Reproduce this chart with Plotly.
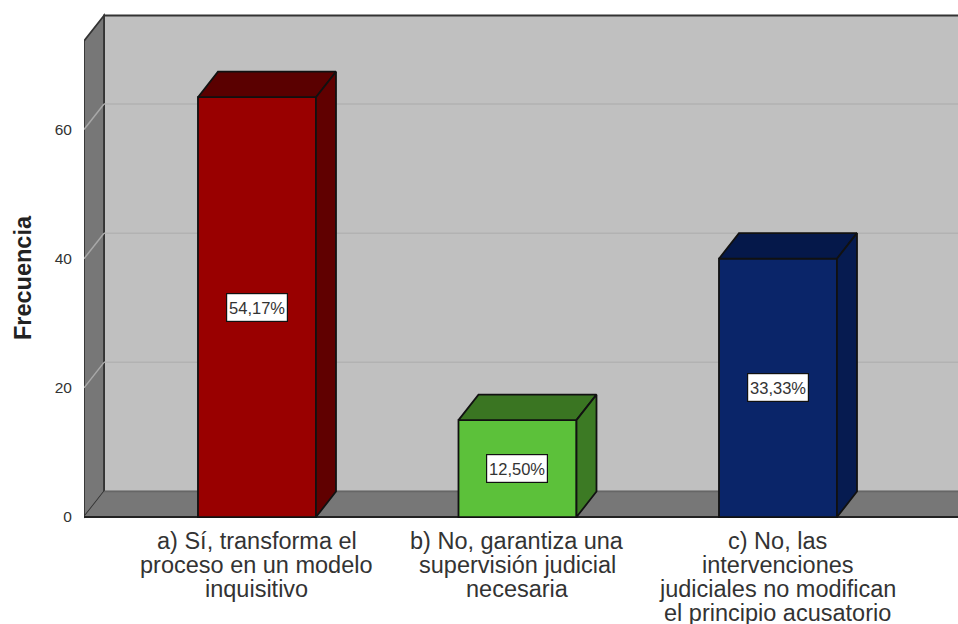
import plotly.graph_objects as go

category_lines = [
    ["a) Sí, transforma el", "proceso en un modelo", "inquisitivo"],
    ["b) No, garantiza una", "supervisión judicial", "necesaria"],
    ["c) No, las", "intervenciones", "judiciales no modifican", "el principio acusatorio"],
]
frequencies = [65, 15, 40]
percent_labels = ["54,17%", "12,50%", "33,33%"]
positions = [0, 1, 2]
y_ticks = [0, 20, 40, 60]
y_title = "Frecuencia"

front_colors = ["#990000", "#5CC13A", "#0A2569"]
top_colors = ["#5A0000", "#3A7522", "#05184A"]
side_colors = ["#600000", "#3C7A24", "#061B50"]

X_MIN, X_MAX = -0.664, 2.691
Y_MIN, Y_MAX = -0.3, 78.5
WALL_TOP = 73.7
DX, DY = 0.0768, 3.95
BAR_W = 0.453
LINE = "#111111"
EDGE = 1.8


def poly(points):
    return "M " + " L ".join(f"{x},{y}" for x, y in points) + " Z"


shapes = []
# back wall
shapes.append(dict(type="path", layer="below", xref="x", yref="y",
                   path=poly([(X_MIN + DX, DY), (X_MAX + 0.01, DY), (X_MAX + 0.01, WALL_TOP + DY), (X_MIN + DX, WALL_TOP + DY)]),
                   fillcolor="#C0C0C0", line=dict(color="#333333", width=1.8)))
# left wall
shapes.append(dict(type="path", layer="below", xref="x", yref="y",
                   path=poly([(X_MIN, 0), (X_MIN + DX, DY), (X_MIN + DX, WALL_TOP + DY), (X_MIN, WALL_TOP)]),
                   fillcolor="#777777", line=dict(color="#333333", width=1.8)))
# floor
shapes.append(dict(type="path", layer="below", xref="x", yref="y",
                   path=poly([(X_MIN, 0), (X_MAX + 0.01, 0), (X_MAX + 0.01, DY), (X_MIN + DX, DY)]),
                   fillcolor="#777777", line=dict(color="#777777", width=0)))
# front floor edge
shapes.append(dict(type="line", layer="below", xref="x", yref="y", x0=X_MIN, x1=X_MAX + 0.01, y0=0, y1=0,
                   line=dict(color="#222222", width=2)))
shapes.append(dict(type="line", layer="below", xref="x", yref="y", x0=X_MIN + DX, x1=X_MAX + 0.01, y0=DY, y1=DY,
                   line=dict(color="#666666", width=1.5)))
# gridlines on the walls
for t in y_ticks[1:]:
    shapes.append(dict(type="line", layer="below", xref="x", yref="y", x0=X_MIN + DX, x1=X_MAX + 0.01, y0=t + DY, y1=t + DY,
                       line=dict(color="#B2B2B2", width=1.5)))
    shapes.append(dict(type="line", layer="below", xref="x", yref="y", x0=X_MIN, x1=X_MIN + DX, y0=t, y1=t + DY,
                       line=dict(color="#A8A8A8", width=1.5)))

fig = go.Figure()
fig.add_trace(go.Bar(
    x=positions, y=frequencies, width=BAR_W,
    marker=dict(color=front_colors, line=dict(color=LINE, width=EDGE)),
    hoverinfo="skip", showlegend=False,
))

for p, v, top, side in zip(positions, frequencies, top_colors, side_colors):
    l, r = p - BAR_W / 2, p + BAR_W / 2
    fig.add_trace(go.Scatter(
        x=[l, r, r + DX, l + DX, l], y=[v, v, v + DY, v + DY, v],
        mode="lines", fill="toself", fillcolor=top, line=dict(color=LINE, width=EDGE),
        hoverinfo="skip", showlegend=False, cliponaxis=False,
    ))
    fig.add_trace(go.Scatter(
        x=[r, r + DX, r + DX, r, r], y=[0, DY, v + DY, v, 0],
        mode="lines", fill="toself", fillcolor=side, line=dict(color=LINE, width=EDGE),
        hoverinfo="skip", showlegend=False, cliponaxis=False,
    ))

annotations = [
    dict(x=p, y=v / 2, xref="x", yref="y", text=t, showarrow=False,
         font=dict(family="Liberation Sans", size=16.5, color="#333333"),
         bgcolor="#FFFFFF", bordercolor="#111111", borderwidth=1.2,
         width=58, height=25, align="center", valign="middle")
    for p, v, t in zip(positions, frequencies, percent_labels)
]

# category labels, one annotation per line: the reference sets them tighter than tick labels allow
for p, lines in zip(positions, category_lines):
    for k, line in enumerate(lines):
        annotations.append(dict(
            x=p, y=0, xref="x", yref="y", text=line, showarrow=False,
            yanchor="middle", xanchor="center", yshift=-23.5 - 24 * k,
            font=dict(family="Liberation Sans", size=23.5, color="#333333"),
        ))

annotations.append(dict(
    x=0, xref="paper", xshift=-61, y=37, yref="y", text=f"<b>{y_title}</b>", showarrow=False,
    textangle=-90, xanchor="center", yanchor="middle",
    font=dict(family="Liberation Sans", size=23.5, color="#222222"),
))

fig.update_layout(
    width=958, height=624, autosize=False,
    paper_bgcolor="#FFFFFF", plot_bgcolor="#FFFFFF",
    margin=dict(l=84, r=0, t=10, b=105),
    shapes=shapes, annotations=annotations, showlegend=False,
    xaxis=dict(range=[X_MIN, X_MAX], showgrid=False, zeroline=False, showline=False, showticklabels=False),
    yaxis=dict(range=[Y_MIN, Y_MAX], tickmode="array", tickvals=y_ticks,
               showgrid=False, zeroline=False, showline=False, ticks="outside", ticklen=8,
               tickcolor="rgba(0,0,0,0)",
               tickfont=dict(family="Liberation Sans", size=15.5, color="#333333")),
)

fig.write_html("out.html", config=dict(displayModeBar=False),
               post_script="document.documentElement.style.margin='0';document.body.style.margin='0';document.body.style.padding='0';")
